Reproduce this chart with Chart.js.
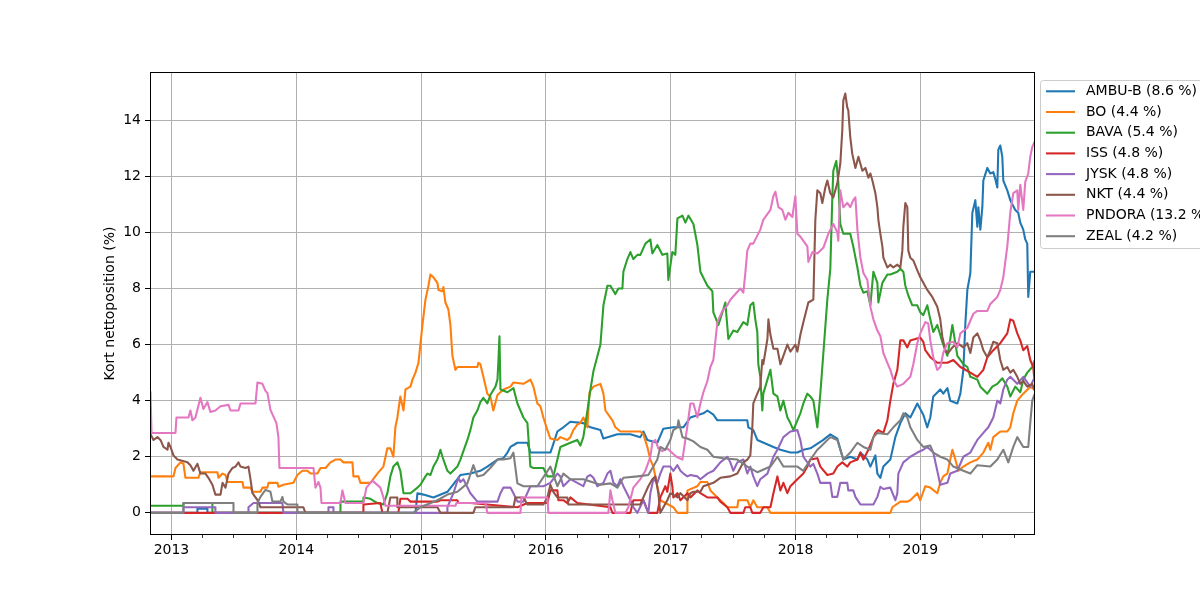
<!DOCTYPE html>
<html><head><meta charset="utf-8">
<script src="https://cdn.jsdelivr.net/npm/chart.js@4/dist/chart.umd.min.js"></script>
<style>html,body{margin:0;padding:0;background:#fff;overflow:hidden}canvas{display:block}</style>
</head><body>
<canvas id="c" width="1200" height="600"></canvas>
<script>
// ---- data (dates as decimal years, values in % short net position) ----
const seriesNames = ['AMBU-B','BO','BAVA','ISS','JYSK','NKT','PNDORA','ZEAL'];
const latestLabels = ['8.6','4.4','5.4','4.8','4.8','4.4','13.2','4.2'];
const seriesColors = ['#1f77b4','#ff7f0e','#2ca02c','#d62728','#9467bd','#8c564b','#e377c2','#7f7f7f'];
const yearTicks = [2013,2014,2015,2016,2017,2018,2019];
const yLabel = 'Kort nettoposition (%)';

const ambuDates = [2012.832,2013.208,2013.208,2013.288,2013.288,2014.955,2014.971,2015.019,2015.099,2015.211,2015.291,2015.315,2015.395,2015.475,2015.531,2015.612,2015.660,2015.692,2015.716,2015.772,2015.852,2015.876,2016.036,2016.052,2016.092,2016.140,2016.196,2016.300,2016.357,2016.437,2016.461,2016.573,2016.677,2016.757,2016.781,2016.813,2016.893,2016.941,2017.021,2017.102,2017.158,2017.262,2017.294,2017.342,2017.374,2017.614,2017.622,2017.662,2017.694,2017.823,2017.879,2017.959,2018.015,2018.063,2018.119,2018.223,2018.279,2018.335,2018.383,2018.439,2018.496,2018.520,2018.576,2018.600,2018.640,2018.656,2018.680,2018.704,2018.760,2018.800,2018.840,2018.880,2018.920,2018.976,2019.024,2019.056,2019.080,2019.104,2019.160,2019.184,2019.217,2019.240,2019.297,2019.321,2019.345,2019.361,2019.377,2019.401,2019.417,2019.441,2019.457,2019.465,2019.481,2019.497,2019.505,2019.537,2019.561,2019.585,2019.601,2019.617,2019.625,2019.641,2019.657,2019.665,2019.697,2019.721,2019.761,2019.785,2019.801,2019.825,2019.841,2019.857,2019.865,2019.881,2019.913];
const ambuValues = [0,0,0.15,0.15,0,0,0.7,0.65,0.55,0.75,1.2,1.35,1.4,1.5,1.65,1.9,1.95,2.15,2.35,2.5,2.5,2.15,2.15,2.35,2.9,3.05,3.25,3.2,3.05,2.95,2.65,2.8,2.8,2.7,2.9,2.6,2.5,3.0,3.05,3.05,3.4,3.55,3.65,3.5,3.3,3.3,3.05,2.95,2.6,2.35,2.25,2.15,2.15,2.25,2.3,2.6,2.8,2.65,1.9,2.0,1.9,2.15,1.9,1.65,2.05,1.4,1.25,1.65,1.9,2.7,3.2,3.55,3.4,3.9,3.5,3.05,3.4,4.15,4.4,4.25,4.45,4.0,3.9,4.25,5.1,6.75,7.95,8.55,10.7,11.15,10.2,10.9,10.1,10.9,11.85,12.3,12.1,12.15,11.9,11.6,12.95,13.1,12.7,11.85,11.5,11.15,10.8,10.7,10.35,10.1,9.75,9.6,7.7,8.6,8.6];

const boDates = [2012.832,2013.016,2013.032,2013.072,2013.096,2013.112,2013.216,2013.232,2013.368,2013.377,2013.409,2013.433,2013.449,2013.569,2013.577,2013.633,2013.649,2013.713,2013.729,2013.769,2013.777,2013.849,2013.857,2013.897,2013.977,2014.009,2014.049,2014.089,2014.114,2014.170,2014.194,2014.234,2014.274,2014.314,2014.354,2014.378,2014.450,2014.458,2014.498,2014.514,2014.594,2014.650,2014.698,2014.730,2014.754,2014.778,2014.794,2014.810,2014.834,2014.859,2014.875,2014.915,2014.931,2014.955,2014.979,2015.011,2015.035,2015.059,2015.075,2015.099,2015.131,2015.139,2015.171,2015.179,2015.195,2015.219,2015.235,2015.251,2015.275,2015.291,2015.451,2015.459,2015.475,2015.499,2015.531,2015.555,2015.579,2015.612,2015.660,2015.716,2015.740,2015.820,2015.876,2015.900,2015.932,2015.956,2015.980,2016.012,2016.036,2016.092,2016.116,2016.172,2016.196,2016.220,2016.252,2016.276,2016.300,2016.333,2016.349,2016.381,2016.437,2016.461,2016.477,2016.533,2016.557,2016.597,2016.757,2016.781,2016.813,2016.837,2016.861,2016.877,2016.893,2016.917,2017.021,2017.054,2017.134,2017.134,2017.214,2017.238,2017.294,2017.318,2017.374,2017.422,2017.454,2017.534,2017.542,2017.614,2017.638,2017.662,2017.694,2017.775,2017.799,2018.760,2018.776,2018.840,2018.896,2018.920,2018.976,2019.000,2019.040,2019.080,2019.136,2019.160,2019.184,2019.217,2019.240,2019.257,2019.281,2019.305,2019.345,2019.401,2019.457,2019.505,2019.545,2019.561,2019.585,2019.641,2019.697,2019.721,2019.745,2019.777,2019.825,2019.881,2019.913];
const boValues = [1.3,1.3,1.6,1.8,1.75,1.25,1.25,1.45,1.45,1.25,1.4,1.35,1.1,1.1,0.9,0.9,0.75,0.75,0.9,0.9,1.07,1.07,0.93,1.0,1.07,1.35,1.5,1.5,1.4,1.4,1.6,1.6,1.8,1.9,1.9,1.8,1.8,1.3,1.3,1.07,1.07,1.4,1.65,2.3,2.3,2.0,3.05,3.4,4.15,3.65,4.4,4.5,4.75,5.0,5.35,6.7,7.6,8.1,8.5,8.4,8.2,7.95,7.9,8.05,7.5,7.25,6.7,5.6,5.1,5.2,5.2,5.35,5.3,4.85,4.25,4.15,3.65,4.2,4.4,4.5,4.65,4.6,4.75,4.5,3.9,3.8,3.4,2.95,2.65,2.6,2.7,2.6,2.7,2.95,3.15,3.2,3.4,3.05,4.3,4.5,4.6,4.25,3.65,3.3,3.05,2.9,2.9,2.8,2.35,1.9,1.65,1.3,0.95,0.45,0.2,0,0,0.8,0.95,1.1,1.1,0.8,0.55,0.35,0.2,0.2,0.45,0.45,0.2,0.45,0.2,0.2,0,0,0.2,0.4,0.4,0.45,0.7,0.45,0.95,0.9,0.7,1.07,1.3,1.4,1.9,2.25,1.9,1.5,1.65,1.8,1.9,2.15,2.5,2.25,2.7,2.9,2.9,3.05,3.55,4.0,4.25,4.5,4.4];

const bavaDates = [2012.832,2013.096,2013.096,2013.328,2013.328,2014.354,2014.354,2014.538,2014.538,2014.594,2014.650,2014.698,2014.730,2014.754,2014.778,2014.810,2014.834,2014.851,2014.859,2014.915,2014.971,2014.995,2015.035,2015.051,2015.075,2015.099,2015.131,2015.155,2015.171,2015.211,2015.235,2015.291,2015.315,2015.371,2015.395,2015.419,2015.451,2015.475,2015.499,2015.531,2015.555,2015.596,2015.612,2015.620,2015.628,2015.636,2015.692,2015.740,2015.772,2015.820,2015.852,2015.876,2015.900,2015.980,2016.012,2016.060,2016.092,2016.116,2016.196,2016.252,2016.276,2016.300,2016.333,2016.357,2016.381,2016.437,2016.461,2016.493,2016.517,2016.557,2016.581,2016.613,2016.621,2016.653,2016.677,2016.701,2016.733,2016.757,2016.797,2016.837,2016.853,2016.893,2016.933,2016.973,2016.981,2017.013,2017.037,2017.054,2017.094,2017.118,2017.142,2017.182,2017.214,2017.238,2017.294,2017.334,2017.342,2017.382,2017.414,2017.438,2017.462,2017.502,2017.534,2017.582,2017.614,2017.638,2017.662,2017.678,2017.694,2017.702,2017.718,2017.734,2017.742,2017.775,2017.799,2017.823,2017.855,2017.879,2017.903,2017.935,2017.959,2017.983,2018.015,2018.039,2018.063,2018.095,2018.119,2018.143,2018.175,2018.199,2018.215,2018.255,2018.279,2018.295,2018.303,2018.327,2018.343,2018.359,2018.383,2018.439,2018.463,2018.496,2018.520,2018.544,2018.576,2018.600,2018.624,2018.656,2018.664,2018.696,2018.736,2018.760,2018.816,2018.840,2018.864,2018.880,2018.904,2018.936,2018.976,2019.000,2019.024,2019.056,2019.080,2019.104,2019.136,2019.176,2019.217,2019.240,2019.257,2019.297,2019.345,2019.377,2019.401,2019.457,2019.481,2019.537,2019.577,2019.617,2019.657,2019.697,2019.721,2019.761,2019.801,2019.825,2019.857,2019.897,2019.913];
const bavaValues = [0.25,0.25,0.35,0.35,0,0,0.4,0.4,0.55,0.5,0.35,0.3,0.7,1.3,1.65,1.8,1.5,0.95,0.7,0.7,0.9,1.0,1.3,1.4,1.35,1.65,1.9,2.25,2.0,1.5,1.4,1.65,1.9,2.6,2.95,3.4,3.65,3.95,4.1,3.9,4.2,4.5,4.75,5.45,6.3,4.4,4.3,4.45,3.9,3.4,3.2,1.65,1.6,1.6,1.3,1.3,1.9,2.35,2.5,2.6,2.4,2.7,3.65,4.4,5.05,6.0,7.4,8.1,8.1,7.8,8.0,8.0,8.6,9.05,9.3,9.05,9.2,9.2,9.6,9.75,9.25,9.55,9.2,9.25,8.3,9.3,9.2,10.5,10.6,10.35,10.6,10.3,9.55,8.6,8.1,7.9,7.15,6.7,7.15,7.5,6.2,6.5,6.45,6.8,6.7,7.4,7.5,6.9,6.45,5.3,4.85,3.65,4.25,4.75,5.1,4.25,4.15,3.65,4.0,3.4,3.2,2.95,3.3,3.55,3.9,4.25,4.15,4.0,3.05,4.25,5.2,7.6,8.7,11.25,12.2,12.55,11.8,10.3,9.95,9.95,9.5,8.75,8.1,7.85,7.9,7.4,8.6,8.2,7.5,8.2,8.5,8.5,8.6,8.7,8.6,8.1,7.75,7.4,7.4,7.15,7.05,7.4,6.9,6.45,6.7,6.1,5.6,6.2,6.7,5.6,5.3,5.2,4.85,4.75,4.5,4.25,4.5,4.6,4.8,4.5,4.15,4.5,4.3,4.75,5.0,5.2,5.4];

const issDates = [2012.832,2014.538,2014.538,2014.674,2014.690,2014.818,2014.834,2014.891,2014.915,2015.131,2015.155,2015.291,2015.299,2015.395,2015.772,2015.852,2016.012,2016.036,2016.092,2016.100,2016.140,2016.172,2016.196,2016.252,2016.517,2016.533,2016.677,2016.701,2016.781,2016.821,2016.893,2016.917,2016.957,2016.973,2016.997,2017.013,2017.021,2017.054,2017.078,2017.134,2017.158,2017.214,2017.238,2017.294,2017.374,2017.398,2017.454,2017.478,2017.582,2017.598,2017.638,2017.654,2017.718,2017.742,2017.799,2017.823,2017.855,2017.879,2017.903,2017.935,2017.959,2018.015,2018.063,2018.095,2018.119,2018.175,2018.199,2018.255,2018.303,2018.335,2018.375,2018.415,2018.439,2018.496,2018.520,2018.544,2018.584,2018.616,2018.640,2018.664,2018.704,2018.736,2018.760,2018.784,2018.816,2018.840,2018.864,2018.896,2018.920,2019.000,2019.024,2019.040,2019.080,2019.136,2019.217,2019.265,2019.321,2019.401,2019.457,2019.505,2019.537,2019.585,2019.641,2019.697,2019.721,2019.745,2019.777,2019.801,2019.825,2019.857,2019.881,2019.905,2019.913];
const issValues = [0,0,0.3,0.35,0,0,0.5,0.5,0.4,0.4,0.45,0.45,0.35,0.35,0.2,0.35,0.35,0.8,0.8,0.45,0.45,0.35,0.55,0.35,0.2,0,0,0.45,0.45,0,0,0.55,0.95,0.75,1.4,0.95,0.55,0.7,0.45,0.7,0.55,0.8,0.7,0.55,0.55,0.4,0.2,0,0,0.2,0.2,0,0,0.2,0.2,0.7,1.3,0.8,1.07,0.7,0.95,1.2,1.4,1.65,1.9,1.95,1.65,1.35,1.4,1.65,1.8,1.65,1.8,1.9,2.15,1.9,2.25,2.6,2.85,2.95,2.85,3.3,4.0,4.6,5.1,6.15,6.15,5.9,6.15,6.25,6.1,5.8,5.55,5.35,5.35,5.45,5.2,5.0,4.85,5.1,5.55,5.8,6.05,6.4,6.9,6.85,6.4,6.15,5.8,5.95,5.45,5.2,4.8];

const jyskDates = [2012.832,2013.096,2013.096,2013.352,2013.352,2013.617,2013.617,2013.657,2013.889,2013.897,2014.258,2014.258,2014.298,2014.298,2015.211,2015.211,2015.259,2015.299,2015.315,2015.339,2015.395,2015.451,2015.612,2015.636,2015.660,2015.716,2015.740,2015.772,2015.820,2015.876,2015.980,2016.036,2016.092,2016.116,2016.140,2016.196,2016.300,2016.333,2016.357,2016.381,2016.413,2016.461,2016.493,2016.517,2016.541,2016.573,2016.597,2016.621,2016.677,2016.701,2016.733,2016.781,2016.821,2016.837,2016.861,2016.893,2016.917,2016.941,2016.997,2017.021,2017.054,2017.078,2017.102,2017.134,2017.158,2017.214,2017.238,2017.294,2017.342,2017.398,2017.454,2017.478,2017.502,2017.534,2017.582,2017.614,2017.638,2017.662,2017.694,2017.718,2017.775,2017.823,2017.855,2017.903,2017.959,2018.015,2018.039,2018.063,2018.119,2018.143,2018.175,2018.199,2018.279,2018.295,2018.335,2018.359,2018.415,2018.423,2018.463,2018.480,2018.520,2018.624,2018.656,2018.680,2018.704,2018.760,2018.800,2018.816,2018.824,2018.864,2018.920,2018.976,2019.024,2019.056,2019.080,2019.104,2019.136,2019.160,2019.217,2019.240,2019.297,2019.345,2019.401,2019.425,2019.457,2019.505,2019.545,2019.585,2019.617,2019.641,2019.665,2019.697,2019.721,2019.777,2019.825,2019.881,2019.913];
const jyskValues = [0,0,0.2,0.2,0,0,0.2,0.35,0.35,0,0,0.2,0.2,0,0,0.2,0.7,1.25,1.1,1.2,0.7,0.4,0.4,0.7,0.9,0.9,0.7,0.4,0.4,0.95,0.95,1.07,1.4,1.3,0.95,1.2,0.95,1.3,1.35,1.25,0.95,1.07,1.4,1.5,1.07,0.95,1.2,0.95,0.45,0.2,0,0.45,0,0.7,1.2,1.07,1.4,1.65,1.65,1.5,1.7,1.5,1.4,1.3,1.35,1.3,1.2,1.4,1.5,1.8,2.0,1.8,1.5,1.8,1.9,1.4,1.65,1.3,0.95,1.2,1.4,2.0,2.25,2.7,2.9,2.95,2.6,2.0,1.65,1.75,1.4,1.07,1.07,0.57,0.57,1.07,1.07,0.8,0.8,0.57,0.3,0.3,0.57,0.93,0.85,0.9,0.45,0.7,1.4,1.8,2.0,2.15,2.25,2.35,2.25,2.15,1.5,1.0,1.07,1.4,1.5,2.0,2.15,2.35,2.6,2.85,3.05,3.4,4.0,3.9,4.4,4.75,4.85,4.6,4.85,4.5,4.8];

const nktDates = [2012.832,2012.856,2012.888,2012.912,2012.936,2012.968,2012.976,2012.992,2013.016,2013.048,2013.128,2013.152,2013.176,2013.208,2013.232,2013.272,2013.296,2013.328,2013.352,2013.393,2013.409,2013.433,2013.457,2013.489,2013.513,2013.537,2013.553,2013.593,2013.617,2013.633,2013.649,2013.689,2013.713,2014.057,2014.073,2014.730,2014.754,2014.810,2014.810,2015.131,2015.155,2015.419,2015.435,2015.740,2015.756,2015.820,2015.852,2015.980,2016.012,2016.036,2016.060,2016.092,2016.172,2016.180,2016.757,2016.781,2016.821,2016.853,2016.877,2016.901,2016.917,2016.973,2016.997,2017.054,2017.078,2017.134,2017.158,2017.182,2017.238,2017.262,2017.342,2017.398,2017.478,2017.534,2017.582,2017.614,2017.638,2017.654,2017.662,2017.694,2017.718,2017.734,2017.742,2017.775,2017.783,2017.799,2017.823,2017.855,2017.879,2017.903,2017.935,2017.959,2017.999,2018.015,2018.039,2018.063,2018.103,2018.143,2018.159,2018.175,2018.199,2018.215,2018.239,2018.255,2018.279,2018.303,2018.335,2018.359,2018.375,2018.383,2018.399,2018.415,2018.423,2018.439,2018.455,2018.480,2018.504,2018.536,2018.560,2018.584,2018.600,2018.616,2018.640,2018.656,2018.664,2018.680,2018.696,2018.704,2018.736,2018.760,2018.784,2018.816,2018.840,2018.856,2018.864,2018.880,2018.896,2018.904,2018.920,2018.944,2018.976,2019.000,2019.056,2019.096,2019.136,2019.160,2019.176,2019.200,2019.224,2019.257,2019.297,2019.345,2019.377,2019.401,2019.425,2019.457,2019.481,2019.505,2019.537,2019.561,2019.585,2019.617,2019.641,2019.665,2019.697,2019.721,2019.745,2019.777,2019.801,2019.825,2019.857,2019.897,2019.913];
const nktValues = [2.8,2.6,2.7,2.6,2.35,2.25,2.5,2.35,2.05,1.9,1.8,1.7,1.5,1.75,1.4,1.4,1.25,1.0,0.65,0.65,1.07,0.9,1.4,1.6,1.65,1.8,1.65,1.6,1.65,1.2,0.7,0.45,0.2,0.2,0,0,0.55,0.55,0.2,0.2,0,0,0.2,0.2,0.55,0.55,0.3,0.3,0.55,1.0,0.75,0.55,0.55,0.3,0.3,0.55,0.95,1.2,1.3,0.7,0,0.45,0.7,0.55,0.7,0.45,0.7,0.75,0.75,0.95,1.07,1.25,1.3,1.4,1.8,1.9,2.05,3.05,3.9,4.25,4.5,5.45,5.3,6.2,6.9,6.35,5.85,5.85,5.3,5.6,6.0,5.75,6.0,5.75,6.35,6.8,7.5,7.6,10.45,11.5,11.4,11.05,11.6,11.85,11.4,11.25,11.75,12.45,13.65,14.7,14.95,14.45,14.35,13.4,12.8,12.3,12.7,12.2,12.3,11.95,12.1,11.85,11.4,10.9,10.45,9.95,9.5,9.1,8.75,8.85,8.75,8.85,8.75,9.35,10.2,11.05,10.9,9.35,9.1,9.0,8.65,8.4,7.95,7.7,7.35,6.9,6.3,5.8,5.7,5.9,6.05,5.9,6.05,5.7,6.25,6.4,6.15,5.8,5.55,5.8,6.1,6.05,5.45,5.1,5.2,5.0,5.1,4.85,4.6,4.7,4.5,4.6,4.4];

const pndoraDates = [2012.832,2012.840,2013.032,2013.040,2013.136,2013.152,2013.168,2013.192,2013.232,2013.256,2013.288,2013.312,2013.352,2013.393,2013.457,2013.473,2013.537,2013.553,2013.673,2013.689,2013.729,2013.753,2013.769,2013.793,2013.841,2013.857,2013.865,2014.138,2014.154,2014.178,2014.194,2014.202,2014.354,2014.370,2014.394,2014.538,2014.562,2014.594,2014.610,2014.674,2014.698,2014.714,2015.275,2015.283,2015.515,2015.531,2015.796,2015.804,2016.012,2016.020,2016.501,2016.517,2016.533,2016.557,2016.637,2016.661,2016.701,2016.757,2016.797,2016.837,2016.853,2016.877,2016.901,2016.933,2016.973,2016.997,2017.046,2017.094,2017.134,2017.158,2017.182,2017.214,2017.238,2017.262,2017.294,2017.318,2017.342,2017.374,2017.414,2017.454,2017.478,2017.558,2017.582,2017.598,2017.614,2017.638,2017.662,2017.718,2017.742,2017.799,2017.823,2017.839,2017.863,2017.895,2017.919,2017.943,2017.975,2017.999,2018.015,2018.039,2018.063,2018.095,2018.103,2018.135,2018.175,2018.223,2018.263,2018.303,2018.335,2018.343,2018.359,2018.383,2018.415,2018.439,2018.463,2018.480,2018.496,2018.520,2018.544,2018.576,2018.600,2018.624,2018.656,2018.680,2018.704,2018.736,2018.760,2018.784,2018.816,2018.864,2018.920,2018.944,2018.976,2019.000,2019.040,2019.064,2019.080,2019.104,2019.136,2019.160,2019.184,2019.217,2019.265,2019.297,2019.321,2019.377,2019.425,2019.457,2019.537,2019.561,2019.617,2019.641,2019.665,2019.697,2019.721,2019.745,2019.777,2019.785,2019.801,2019.825,2019.841,2019.865,2019.881,2019.897,2019.913];
const pndoraValues = [4.3,2.85,2.85,3.4,3.4,3.65,3.3,3.4,4.1,3.7,3.95,3.6,3.65,3.8,3.85,3.65,3.65,3.9,3.9,4.65,4.6,4.35,4.27,3.67,3.2,2.7,1.6,1.6,0.9,1.1,0.9,0.35,0.35,0.8,0.35,0.35,0.9,1.07,1.15,0.9,0.55,0.25,0.25,0.35,0.35,0,0,0.55,0.55,0,0,0.8,0.45,0,0,0.2,0.9,1.2,1.5,2.0,2.5,2.6,2.3,2.2,2.3,2.2,2.0,1.9,3.1,3.9,3.9,3.4,3.9,4.3,4.7,5.2,5.45,6.8,7.2,7.4,7.6,8.0,7.85,8.55,9.35,9.6,9.6,10.1,10.45,10.8,11.3,11.45,10.9,10.8,10.45,10.7,10.55,11.3,9.95,9.85,9.7,9.5,8.95,9.3,9.25,9.45,9.95,10.3,10.0,9.7,11.5,10.9,11.05,10.9,11.15,11.25,10.1,9.1,8.55,8.3,7.35,6.9,6.5,6.3,5.7,5.35,5.1,4.75,4.5,4.6,4.85,5.3,6.05,6.4,6.8,6.75,6.15,5.55,5.1,5.2,5.7,6.05,6.1,5.9,6.4,6.6,7.1,7.2,7.2,7.45,7.7,7.95,8.4,9.5,10.7,11.4,11.5,10.8,11.7,10.8,11.8,12.1,12.7,13.05,13.2];

const zealDates = [2012.832,2013.096,2013.096,2013.497,2013.497,2013.689,2013.689,2013.713,2013.753,2013.793,2013.809,2013.873,2013.889,2013.897,2013.929,2014.009,2014.009,2014.939,2014.995,2015.131,2015.211,2015.291,2015.371,2015.419,2015.451,2015.499,2015.555,2015.612,2015.660,2015.716,2015.740,2015.772,2015.820,2015.932,2016.036,2016.092,2016.140,2016.196,2016.300,2016.437,2016.517,2016.573,2016.621,2016.733,2016.821,2016.893,2016.917,2016.957,2016.997,2017.021,2017.054,2017.062,2017.094,2017.134,2017.182,2017.238,2017.294,2017.342,2017.422,2017.534,2017.614,2017.694,2017.799,2017.855,2017.903,2018.015,2018.063,2018.119,2018.175,2018.199,2018.279,2018.335,2018.383,2018.439,2018.496,2018.544,2018.600,2018.624,2018.656,2018.736,2018.784,2018.840,2018.864,2018.896,2018.920,2018.976,2019.024,2019.080,2019.104,2019.160,2019.217,2019.265,2019.345,2019.401,2019.457,2019.561,2019.617,2019.665,2019.705,2019.745,2019.777,2019.825,2019.865,2019.881,2019.897,2019.913];
const zealValues = [0,0,0.35,0.35,0,0,0.35,0.57,0.82,0.75,0.4,0.4,0.57,0.4,0.3,0.3,0,0,0.2,0.45,0.65,0.75,1.05,1.7,1.3,1.35,1.6,1.9,1.9,1.95,2.15,1.05,0.95,0.95,1.65,0.95,1.4,1.2,1.2,1.0,1.05,0.9,1.25,1.3,1.35,1.9,2.35,2.25,2.6,2.95,3.05,3.3,2.7,2.65,2.55,2.35,2.25,2.0,1.95,1.9,1.65,1.45,1.65,2.0,1.65,1.65,1.5,1.9,2.25,2.35,2.7,2.6,1.9,2.15,2.5,2.35,2.25,2.7,2.85,2.8,3.05,3.3,3.55,3.4,3.05,2.6,2.35,2.4,2.15,2.0,1.9,1.65,1.5,1.4,1.7,1.65,1.9,2.25,1.8,2.35,2.7,2.35,2.35,3.2,4.0,4.2];

const allDates = [ambuDates, boDates, bavaDates, issDates, jyskDates, nktDates, pndoraDates, zealDates];
const allValues = [ambuValues, boValues, bavaValues, issValues, jyskValues, nktValues, pndoraValues, zealValues];

// ---- build chart ----
const FONT = 'DejaVu Sans';
const LINE_W = 2.08;
const datasets = seriesNames.map((name, i) => ({
  label: name + ' (' + latestLabels[i] + ' %)',
  data: allDates[i].map((t, k) => ({x: t, y: allValues[i][k]})),
  borderColor: seriesColors[i],
  backgroundColor: seriesColors[i],
  borderWidth: LINE_W,
  pointRadius: 0,
  pointHoverRadius: 0,
  tension: 0,
  fill: false,
  borderJoinStyle: 'round',
  borderCapStyle: 'square',
  order: seriesNames.length - i
}));

const frameAndLegend = {
  id: 'frameAndLegend',
  afterDatasetsDraw(chart) {
    const {ctx, chartArea: a, scales} = chart;
    ctx.save();
    // minor ticks (quarters)
    ctx.strokeStyle = '#000';
    ctx.lineWidth = 0.8;
    const qs = [0.2466, 0.4959, 0.7479];
    for (let y = 2012; y <= 2019; y++) {
      qs.forEach(q => {
        const v = y + q;
        if (v <= scales.x.min || v >= scales.x.max) return;
        const px = Math.round(scales.x.getPixelForValue(v)) + 0.5;
        ctx.beginPath(); ctx.moveTo(px, a.bottom); ctx.lineTo(px, a.bottom + 3); ctx.stroke();
      });
    }
    // frame
    ctx.lineWidth = 1;
    ctx.strokeStyle = '#000';
    ctx.strokeRect(Math.round(a.left) + 0.5, Math.round(a.top) + 0.5,
                   Math.round(a.right) - Math.round(a.left), Math.round(a.bottom) - Math.round(a.top) - 1);
    // legend
    const bx = 1040.5, by = 80.5, bw = 200, bh = 168, r = 3;
    ctx.beginPath();
    ctx.moveTo(bx + r, by); ctx.lineTo(bx + bw - r, by); ctx.quadraticCurveTo(bx + bw, by, bx + bw, by + r);
    ctx.lineTo(bx + bw, by + bh - r); ctx.quadraticCurveTo(bx + bw, by + bh, bx + bw - r, by + bh);
    ctx.lineTo(bx + r, by + bh); ctx.quadraticCurveTo(bx, by + bh, bx, by + bh - r);
    ctx.lineTo(bx, by + r); ctx.quadraticCurveTo(bx, by, bx + r, by);
    ctx.closePath();
    ctx.fillStyle = 'rgba(255,255,255,0.8)'; ctx.fill();
    ctx.strokeStyle = '#cccccc'; ctx.lineWidth = 1; ctx.stroke();
    ctx.font = '14px "' + FONT + '"';
    ctx.textBaseline = 'middle';
    ctx.textAlign = 'left';
    chart.data.datasets.forEach((ds, i) => {
      const yy = 91.3 + i * 20.7;
      ctx.strokeStyle = ds.borderColor; ctx.lineWidth = LINE_W;
      ctx.beginPath(); ctx.moveTo(1046, yy); ctx.lineTo(1075, yy); ctx.stroke();
      ctx.fillStyle = '#000';
      ctx.fillText(ds.label, 1086, yy);
    });
    ctx.restore();
  }
};

Chart.defaults.font.family = FONT;
new Chart(document.getElementById('c'), {
  type: 'line',
  data: {datasets},
  plugins: [frameAndLegend],
  options: {
    responsive: false,
    animation: false,
    devicePixelRatio: 1,
    events: [],
    layout: {padding: {left: 98, right: 166, top: 72, bottom: 0}},
    plugins: {legend: {display: false}, tooltip: {enabled: false}},
    scales: {
      x: {
        type: 'linear',
        min: 2012.828, max: 2019.911,
        afterFit(s) { s.height = 65; },
        afterBuildTicks(s) { s.ticks = yearTicks.map(v => ({value: v})); },
        ticks: {stepSize: 1, includeBounds: false, autoSkip: false, maxRotation: 0,
                color: '#000', font: {family: FONT, size: 14}, padding: 2,
                callback: v => String(v)},
        grid: {color: '#b0b0b0', lineWidth: 1, tickColor: '#000', tickWidth: 1, tickLength: 5},
        border: {display: false}
      },
      y: {
        type: 'linear',
        min: -0.79, max: 15.72,
        afterFit(s) { s.width = 52; },
        ticks: {stepSize: 2, includeBounds: false, color: '#000', font: {family: FONT, size: 14}, padding: 4,
                callback: v => String(v)},
        grid: {color: '#b0b0b0', lineWidth: 1, tickColor: '#000', tickWidth: 1, tickLength: 5},
        border: {display: false},
        title: {display: true, text: yLabel, color: '#000', font: {family: FONT, size: 14}, padding: {top: 4, bottom: 0}}
      }
    }
  }
});
</script>
</body></html>
